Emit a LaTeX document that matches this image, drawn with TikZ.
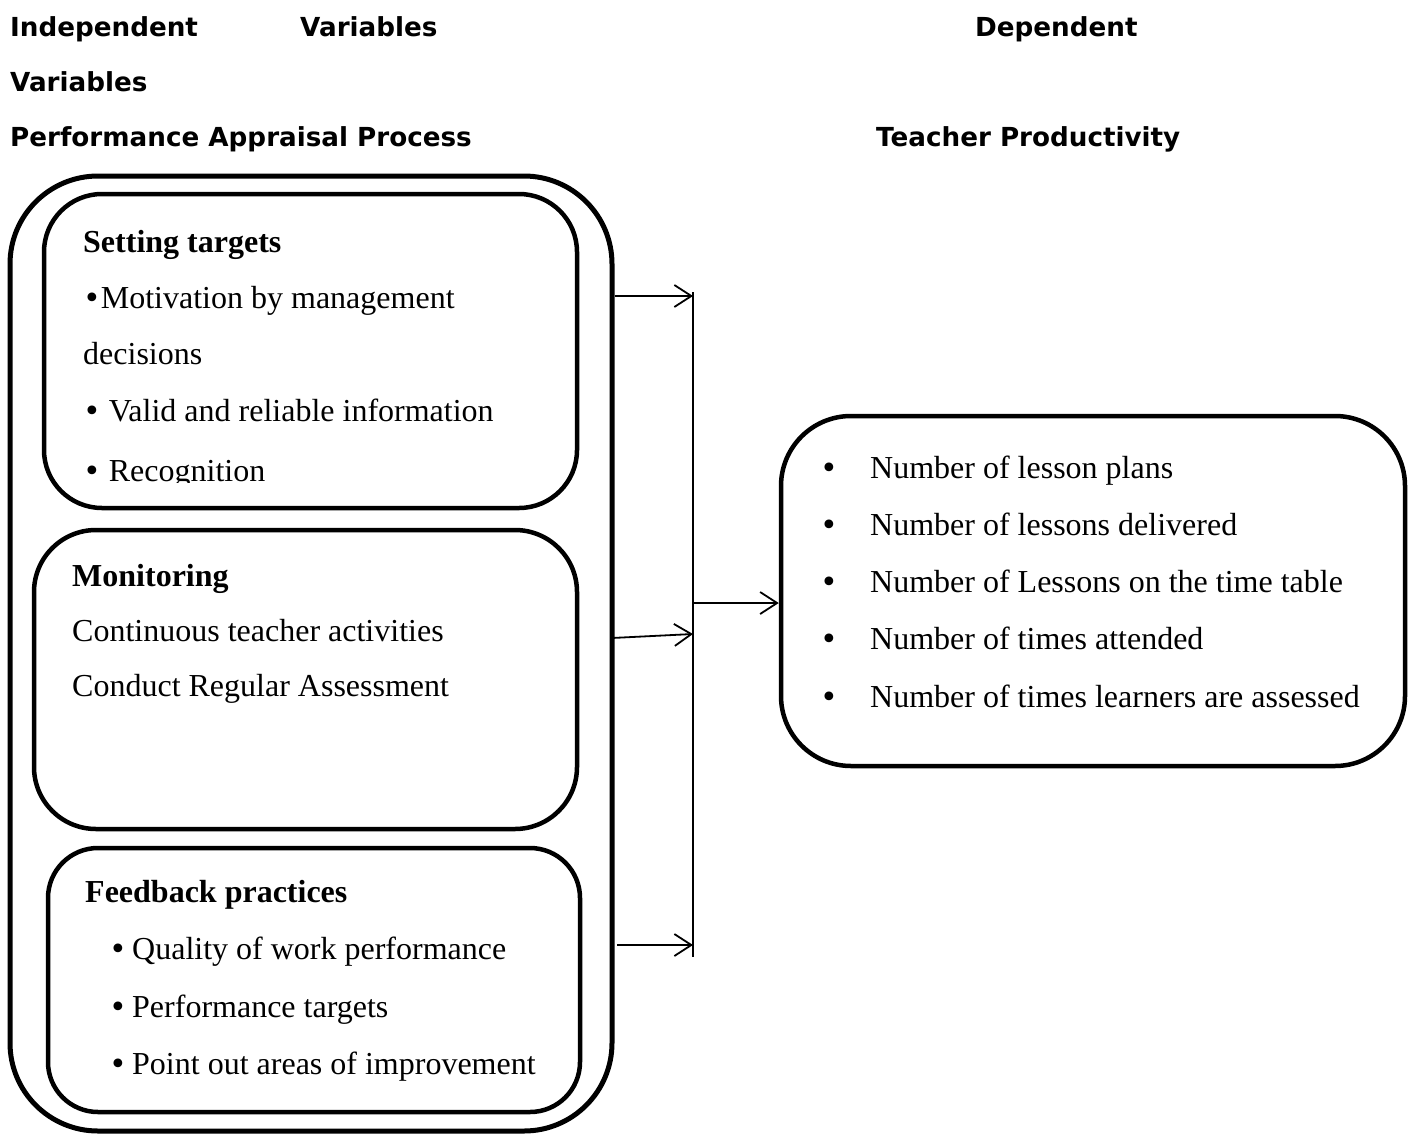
\documentclass[tikz,border=0pt]{standalone}
\usepackage{fontspec}
\setmainfont{Liberation Serif}
\newfontfamily\hdr{DejaVu Sans}
\newfontfamily\bulfont{DejaVu Sans}
\usetikzlibrary{arrows.meta}
\newcommand{\bigbul}{{\bulfont\char"2022}}
\begin{document}
\begin{tikzpicture}[x=1pt,y=-1pt,
  hdrtext/.style={anchor=base west,inner sep=0pt,font=\hdr\bfseries\fontsize{26.2}{30}\selectfont},
  bodytext/.style={anchor=base west,inner sep=0pt,font=\fontsize{32}{38}\selectfont},
  headtext/.style={anchor=base west,inner sep=0pt,font=\bfseries\fontsize{32}{38}\selectfont},
  bullettext/.style={anchor=base,inner sep=0pt,font=\fontsize{30}{38}\selectfont},
  box/.style={draw,line width=4.5pt,rounded corners=#1,inner sep=0pt},
  conn/.style={line width=1.8pt,-{Straight Barb[length=17pt,width=22pt,line width=1.8pt]}},
  busline/.style={line width=1.8pt}]
\useasboundingbox (0,0) rectangle (1413,1135);

% headers
\node[hdrtext] (h1) at (10,36) {Independent};
\node[hdrtext] (h2) at (300,36) {Variables};
\node[hdrtext] (h3) at (975,36) {Dependent};
\node[hdrtext] (h4) at (10,91) {Variables};
\node[hdrtext] (h5) at (10,146) {Performance Appraisal Process};
\node[hdrtext] (h6) at (876,146) {Teacher Productivity};

% boxes
\node[box=88pt,line width=5pt,minimum width=602pt,minimum height=955pt] (outer) at (311,653.5) {};
\node[box=58pt,minimum width=533pt,minimum height=314pt] (b1) at (310.5,351) {};
\node[box=62pt,minimum width=543pt,minimum height=299pt] (b2) at (305.5,679.5) {};
\node[box=50pt,minimum width=532pt,minimum height=264pt] (b3) at (314,980) {};
\node[box=70pt,minimum width=624pt,minimum height=350pt] (rb) at (1093,591) {};

% box 1 text
\node[headtext] (t11) at (83,252) {Setting targets};
\node[bodytext] (t12) at (83,308) {{\fontsize{30}{34}\selectfont\bigbul}Motivation by management};
\node[bodytext] (t13) at (83,364) {decisions};
\node[bodytext] (t14) at (83,421) {{\fontsize{30}{34}\selectfont\bigbul} Valid and reliable information};
\begin{scope}
\clip (40,440) rectangle (590,482);
\node[bodytext] (t15) at (83,481) {{\fontsize{30}{34}\selectfont\bigbul} Recognition};
\end{scope}

% box 2 text
\node[headtext] (t21) at (72,586) {Monitoring};
\node[bodytext] (t22) at (72,641) {Continuous teacher activities};
\node[bodytext] (t23) at (72,696) {Conduct Regular Assessment};

% box 3 text
\node[headtext] (t31) at (85,902) {Feedback practices};
\node[bullettext] (p31) at (118,959) {\bigbul};
\node[bodytext] (t32) at (132,959) {Quality of work performance};
\node[bullettext] (p32) at (118,1017) {\bigbul};
\node[bodytext] (t33) at (132,1017) {Performance targets};
\node[bullettext] (p33) at (118,1074) {\bigbul};
\node[bodytext] (t34) at (132,1074) {Point out areas of improvement};

% right box text
\node[bullettext] (q1) at (829,478) {\bigbul};
\node[bodytext] (r1) at (870,478) {Number of lesson plans};
\node[bullettext] (q2) at (829,535) {\bigbul};
\node[bodytext] (r2) at (870,535) {Number of lessons delivered};
\node[bullettext] (q3) at (829,592) {\bigbul};
\node[bodytext] (r3) at (870,592) {Number of Lessons on the time table};
\node[bullettext] (q4) at (829,649) {\bigbul};
\node[bodytext] (r4) at (870,649) {Number of times attended};
\node[bullettext] (q5) at (829,707) {\bigbul};
\node[bodytext] (r5) at (870,707) {Number of times learners are assessed};

% connectors
\coordinate (bustop) at (693,292);
\coordinate (busbot) at (693,957);
\coordinate (j1) at (693,296);
\coordinate (j2) at (693,634);
\coordinate (j3) at (693,945);
\coordinate (jm) at (693,603);
\coordinate (s2) at (612,638);
\coordinate (s3) at (617,945);
\draw[busline] (bustop) -- (busbot);
\draw[conn] (outer.east |- j1) -- (j1);
\draw[conn] (s2) -- (j2);
\draw[conn] (s3) -- (j3);
\draw[conn] (jm) -- (rb.west |- jm);
\end{tikzpicture}
\end{document}
